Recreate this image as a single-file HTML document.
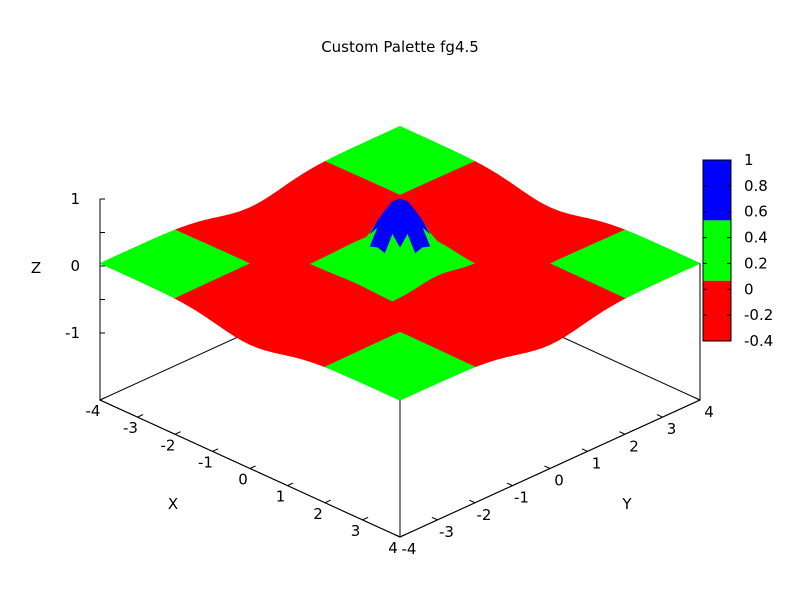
<!DOCTYPE html>
<html><head><meta charset="utf-8"><style>
body{margin:0;background:#fff}
svg{display:block;font-family:"DejaVu Sans","Liberation Sans",sans-serif;font-size:15px}
</style></head><body>
<svg id="c" width="800" height="600" viewBox="0 0 800 600">
<text x="400" y="52" text-anchor="middle">Custom Palette fg4.5</text>
<g id="floor"></g>
<g id="surf"></g>
<g id="axes"></g>
<g id="cb"></g>
</svg>
<script>
const xTicks=[-4,-3,-2,-1,0,1,2,3,4];
const yTicks=[-4,-3,-2,-1,0,1,2,3,4];
const zTicks=[-1,0,1];
const cbTicks=[1,0.8,0.6,0.4,0.2,0,-0.2,-0.4];
const cbBands=[-0.4,0.0667,0.5333,1];
const bandColors=["#ff0000","#00ff00","#0000ff"];
const regionLimits=[0.45,1.1,2.0];
const gridN=40;
const range=[-4,4];
const svg=document.getElementById('c');
const NS="http://www.w3.org/2000/svg";
function P(x,y,z){return [400+(x+y)*37.5, 400+(x-y)*17.125-(z+2)*67];}
function peak(x,y){return Math.exp(-(x*x+y*y)/0.4);}
function fz(x,y){
 const e=Math.exp(-x*x/1.5)*(y*y/16)+Math.exp(-y*y/1.5)*(x*x/16);
 return peak(x,y)*0.96-0.19*e+0.04;}
function colorOf(x,y){const a=Math.abs(x),b=Math.abs(y);
 if(peak(x,y)>regionLimits[0])return bandColors[2];
 if((a<regionLimits[1]&&b<regionLimits[1])||(a>regionLimits[2]&&b>regionLimits[2]))return bandColors[1];
 return bandColors[0];}
function el(t,at,parent){const e=document.createElementNS(NS,t);for(const k in at)e.setAttribute(k,at[k]);parent.appendChild(e);return e;}
const floor=document.getElementById('floor');
const fl=[P(-4,-4,-2),P(4,-4,-2),P(4,4,-2),P(-4,4,-2)];
const fp=el('polygon',{points:fl.map(p=>p.join(',')).join(' '),fill:'none',stroke:'#000','stroke-width':1},floor);


const surf=document.getElementById('surf');
const h=(range[1]-range[0])/gridN;const quads=[];
for(let i=0;i<gridN;i++)for(let j=0;j<gridN;j++){
 const x0=range[0]+i*h,y0=range[0]+j*h,x1=x0+h,y1=y0+h;
 quads.push({x0,y0,x1,y1,d:(y0+y1)/2-(x0+x1)/2});}
quads.sort((a,b)=>b.d-a.d);
for(const q of quads){
 const pts=[[q.x0,q.y0],[q.x1,q.y0],[q.x1,q.y1],[q.x0,q.y1]].map(p=>P(p[0],p[1],fz(p[0],p[1])));
 const c=colorOf((q.x0+q.x1)/2,(q.y0+q.y1)/2);
 const e=el('polygon',{points:pts.map(p=>p[0].toFixed(2)+','+p[1].toFixed(2)).join(' '),fill:c,stroke:c,'stroke-width':0.6},surf);
 
 
}
const ax=document.getElementById('axes');
function line(a,b,name){const e=el('line',{x1:a[0],y1:a[1],x2:b[0],y2:b[1],stroke:'#000','stroke-width':1},ax);
 
 return e;}
line(P(-4,-4,-2),P(4,-4,-2),'x-axis-line');
line(P(4,-4,-2),P(4,4,-2),'y-axis-line');
line(P(4,-4,-2),P(4,-4,fz(4,-4)),'front-corner-line');
line(P(4,4,-2),P(4,4,fz(4,4)),'right-corner-line');
line([100,P(-4,-4,1)[1]],P(-4,-4,-2),'z-axis-line');
function txt(x,y,s,anchor,name){const e=el('text',{x:x,y:y,'text-anchor':anchor},ax);e.textContent=s;
 
 return e;}
for(const v of xTicks){const p=P(v,-4,-2);line(p,P(v,-3.85,-2),'x-tick');txt(p[0]-7,p[1]+16,String(v),'middle','x-tick-label');}
for(const v of yTicks){const p=P(4,v,-2);line(p,P(3.85,v,-2),'y-tick');txt(p[0]+9,p[1]+17,String(v),'middle','y-tick-label');}
for(let z=-1;z<=1;z+=0.5){const y=P(-4,-4,z)[1];line([100,y],[105,y],'z-tick');}
for(const v of zTicks){const y=P(-4,-4,v)[1];txt(80,y+5,String(v),'end','z-tick-label');}
txt(173,509,'X','middle','x-axis-title');
txt(627,509,'Y','middle','y-axis-title');
txt(36,273,'Z','middle','z-axis-title');
const cb=document.getElementById('cb');
const cbTop=160,cbBot=341,cbMin=-0.4,cbMax=1;
function cy(v){return cbBot-(v-cbMin)/(cbMax-cbMin)*(cbBot-cbTop);}
for(let k=0;k<3;k++){const e=el('rect',{x:703,y:cy(cbBands[k+1]),width:28,height:cy(cbBands[k])-cy(cbBands[k+1]),fill:bandColors[k]},cb);
 
 }
el('rect',{x:703,y:cbTop,width:28,height:cbBot-cbTop,fill:'none',stroke:'#000'},cb);
for(const v of cbTicks){const y=cy(v);
 el('line',{x1:703,y1:y,x2:707,y2:y,stroke:'#000'},cb);el('line',{x1:727,y1:y,x2:731,y2:y,stroke:'#000'},cb);
 const t=el('text',{x:744,y:y+5},cb);t.textContent=String(v);
 
 }
</script>
</body></html>
